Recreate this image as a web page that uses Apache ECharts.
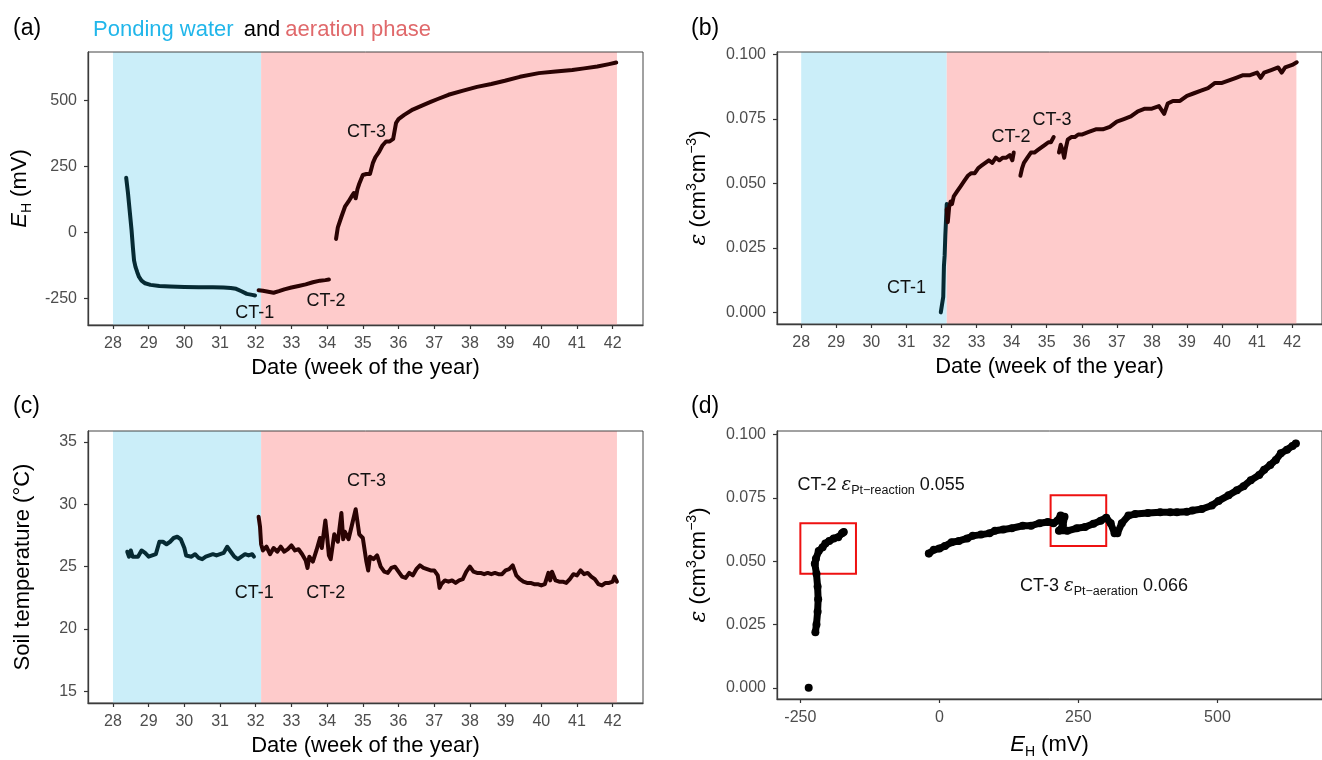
<!DOCTYPE html>
<html>
<head>
<meta charset="utf-8">
<script src="https://cdn.jsdelivr.net/npm/echarts@6/dist/echarts.min.js"></script>
<style>
html,body{margin:0;padding:0;background:#fff}
#main{width:1322px;height:760px}
</style>
</head>
<body>
<div id="main"></div>
<script>
// tick labels
var weekTicks=[28,29,30,31,32,33,34,35,36,37,38,39,40,41,42];
var ehTicks=[-250,0,250,500];
var epsTicks=[0,0.025,0.05,0.075,0.1];
var tempTicks=[15,20,25,30,35];

// phase limits (week of the year)
var pondPhase=[28,32.15];
var aerPhase=[32.15,42.12];

// (a) redox potential EH, mV
var ehPondWeek=[28.37,28.42,28.47,28.52,28.56,28.59,28.63,28.68,28.73,28.80,28.90,29.05,29.3,29.6,30.0,30.4,30.8,31.1,31.3,31.45,31.6,31.75,31.9,31.98];
var ehPondVal=[208,150,80,10,-60,-105,-130,-150,-168,-182,-192,-198,-202,-204,-206,-207,-207,-208,-210,-213,-222,-232,-236,-238];
var ehCt2Week=[32.08,32.2,32.35,32.5,32.65,32.8,33.0,33.2,33.4,33.6,33.8,33.95,34.05];
var ehCt2Val=[-218,-220,-224,-228,-222,-215,-208,-202,-196,-188,-182,-180,-178];
var ehCt3Week=[34.25,34.3,34.4,34.5,34.6,34.7,34.75,34.8,34.85,34.9,35.0,35.1,35.2,35.28,35.35,35.46,35.55,35.65,35.75,35.85,35.93,36.0,36.16,36.4,36.64,36.9,37.1,37.4,37.81,38.2,38.6,38.98,39.4,39.93,40.4,40.87,41.2,41.57,41.9,42.1];
var ehCt3Val=[-24,20,60,98,118,140,150,130,165,185,218,222,222,263,285,307,330,345,345,355,415,430,446,466,480,495,506,522,538,552,563,575,590,604,610,616,622,629,638,644];

// (b) epsilon, cm3 cm-3
var epsPondWeek=[31.98,32.03,32.05,32.07,32.09,32.11,32.13,32.15];
var epsPondVal=[0,0,0.006,0.018,0.022,0.03,0.036,0.042];
var epsCt2Week=[32.15,32.18,32.22,32.26,32.3,32.35,32.45,32.55,32.65,32.75,32.85,32.95,33.05,33.15,33.25,33.35,33.45,33.55,33.65,33.75,33.85,33.95,34.02,34.06];
var epsCt2Val=[0.040,0.035,0.041,0.043,0.042,0.045,0.047,0.049,0.051,0.053,0.054,0.054,0.056,0.057,0.058,0.059,0.058,0.060,0.059,0.060,0.060,0.061,0.059,0.062];
var epsCt3Week=[34.25,34.3,34.35,34.45,34.55,34.65,34.75,34.85,34.95,35.05,35.12,35.2];
var epsCt3Val=[0.053,0.056,0.058,0.060,0.062,0.062,0.063,0.064,0.065,0.066,0.066,0.068];
var epsCt4Week=[35.35,35.4,35.45,35.5,35.55,35.6,35.7,35.8,35.9,36.0,36.2,36.4,36.6,36.8,37.0,37.2,37.4,37.6,37.8,38.0,38.2,38.35,38.45,38.6,38.8,39.0,39.2,39.4,39.6,39.8,40.0,40.2,40.4,40.6,40.8,41.0,41.1,41.2,41.4,41.6,41.7,41.8,42.0,42.13];
var epsCt4Val=[0.062,0.065,0.063,0.060,0.064,0.067,0.068,0.068,0.069,0.069,0.070,0.071,0.071,0.072,0.074,0.075,0.076,0.078,0.079,0.079,0.080,0.077,0.081,0.082,0.082,0.084,0.085,0.086,0.087,0.089,0.089,0.090,0.091,0.092,0.092,0.093,0.091,0.093,0.094,0.095,0.093,0.095,0.096,0.097];

// (c) soil temperature, degC
var tPondWeek=[28.4,28.45,28.5,28.55,28.6,28.7,28.8,28.9,29.0,29.1,29.2,29.3,29.4,29.5,29.6,29.7,29.8,29.9,30.0,30.05,30.2,30.3,30.4,30.5,30.6,30.7,30.8,30.9,31.0,31.1,31.2,31.3,31.4,31.5,31.6,31.7,31.8,31.9,31.95];
var tPondVal=[26.2,25.8,26.3,25.8,25.9,25.8,26.3,26.1,25.8,25.9,26.0,27.0,27.0,26.8,27.0,27.3,27.4,27.2,26.5,25.9,25.8,26.0,25.7,25.6,25.8,25.9,26.0,25.9,26.0,26.1,26.6,26.2,25.8,25.6,25.8,26.0,25.9,26.0,25.8];
var tAerWeek=[32.08,32.12,32.15,32.2,32.3,32.4,32.5,32.6,32.7,32.8,32.9,33.0,33.1,33.2,33.3,33.4,33.45,33.5,33.6,33.7,33.8,33.85,33.95,34.0,34.05,34.1,34.2,34.3,34.4,34.45,34.5,34.6,34.7,34.8,34.9,35.0,35.1,35.15,35.2,35.3,35.4,35.5,35.6,35.7,35.8,35.9,36.0,36.1,36.2,36.3,36.4,36.5,36.6,36.7,36.8,36.9,37.0,37.1,37.15,37.2,37.3,37.4,37.5,37.6,37.7,37.8,37.9,38.0,38.1,38.2,38.3,38.4,38.5,38.6,38.7,38.8,38.9,39.0,39.1,39.2,39.3,39.4,39.5,39.6,39.7,39.8,39.9,40.0,40.1,40.2,40.25,40.3,40.4,40.5,40.6,40.7,40.8,40.9,41.0,41.1,41.2,41.3,41.4,41.5,41.6,41.7,41.8,41.9,42.0,42.05,42.12];
var tAerVal=[29.0,28.2,26.8,26.3,26.6,26.0,26.5,26.2,26.6,26.2,26.4,26.7,26.3,26.4,26.0,25.5,24.9,25.8,25.4,26.3,27.3,26.5,28.7,27.4,25.9,25.6,27.6,27.0,29.3,27.2,27.8,27.2,28.4,29.6,27.6,27.3,25.4,24.7,25.8,25.6,25.9,25.0,24.6,24.5,24.9,25.0,24.6,24.2,24.1,24.5,24.3,24.8,25.1,24.9,24.8,24.7,24.7,24.3,23.3,23.6,23.9,23.8,23.9,23.7,23.9,24.0,24.6,25.0,24.6,24.5,24.5,24.4,24.5,24.4,24.5,24.4,24.4,24.7,24.8,25.1,24.3,24.0,23.8,23.7,23.7,23.6,23.6,23.5,23.6,24.5,23.9,24.6,23.9,23.8,23.8,23.7,24.0,24.4,24.3,24.7,24.4,24.5,24.2,24.0,23.6,23.5,23.7,23.7,23.8,24.2,23.8];

// (d) epsilon against EH
var dZeroEh=[-235];
var dZeroEps=[0];
var dCt2Eh=[-223,-221,-219,-218,-219,-221,-224,-222,-217,-210,-205,-198,-190,-182,-175,-172];
var dCt2Eps=[0.022,0.025,0.030,0.035,0.040,0.045,0.049,0.051,0.054,0.0555,0.057,0.058,0.059,0.0595,0.061,0.0615];
var dCt3Eh=[-19,-10,0,10,22,35,50,60,75,90,100,115,130,150,165,180,195,205,212,218,225,222,215,230,247,262,277,290,300,308,315,320,328,340,352,375,397,415,427,445,455,472,490,502,520,535,547,560,575,584,595,605,614,625,635,641];
var dCt3Eps=[0.053,0.0545,0.055,0.056,0.0575,0.058,0.059,0.060,0.0605,0.061,0.062,0.0625,0.063,0.064,0.064,0.065,0.0655,0.065,0.066,0.068,0.0675,0.064,0.062,0.062,0.063,0.0635,0.0648,0.066,0.0672,0.065,0.061,0.061,0.065,0.068,0.0686,0.069,0.0693,0.0693,0.0693,0.0695,0.070,0.0706,0.072,0.0738,0.076,0.078,0.0796,0.082,0.084,0.0861,0.088,0.090,0.0926,0.094,0.0955,0.0965];

var FONT='"Liberation Sans", Arial, sans-serif';
var TEAL='#062a33', BROWN='#2a0303';
var BLUE_BG='#CBEEF9', PINK_BG='#FECBCB';

function pairs(xs,ys){
    var out=[];
    for(var i=0;i<xs.length;i++){ out.push([xs[i],ys[i]]); }
    return out;
}

var nameRich={
    t:{fontSize:22,fontFamily:FONT,color:'#000',lineHeight:28,verticalAlign:'middle'},
    i:{fontSize:22,fontFamily:FONT,fontStyle:'italic',color:'#000',lineHeight:28,verticalAlign:'middle'},
    e:{fontSize:22,fontFamily:'"DejaVu Serif", serif',fontStyle:'italic',color:'#000',lineHeight:28,verticalAlign:'middle'},
    s:{fontSize:14,fontFamily:FONT,color:'#000',lineHeight:14,verticalAlign:'bottom'},
    p:{fontSize:14,fontFamily:FONT,color:'#000',lineHeight:12,verticalAlign:'top'}
};
var noteRich={
    t:{fontSize:18,fontFamily:FONT,color:'#111',lineHeight:24,verticalAlign:'middle'},
    e:{fontSize:18,fontFamily:'"DejaVu Serif", serif',fontStyle:'italic',color:'#111',lineHeight:24,verticalAlign:'middle'},
    s:{fontSize:12.5,fontFamily:FONT,color:'#111',lineHeight:12,verticalAlign:'bottom'}
};

function xAxisOf(idx,min,max,ticks,name,fmt){
    return {
        type:'value',gridIndex:idx,min:min,max:max,
        name:name,nameLocation:'middle',nameGap:32,
        nameTextStyle:{rich:nameRich,fontSize:22,fontFamily:FONT,color:'#000'},
        splitLine:{show:false},
        axisLine:{show:true,onZero:false,lineStyle:{color:'#333',width:1.3}},
        axisTick:{show:true,length:4,customValues:ticks,lineStyle:{color:'#333',width:1.2}},
        axisLabel:{customValues:ticks,fontSize:16,fontFamily:FONT,color:'#4d4d4d',margin:11,formatter:fmt||null}
    };
}
function yAxisOf(idx,min,max,ticks,name,gap,fmt){
    return {
        type:'value',gridIndex:idx,min:min,max:max,
        name:name,nameLocation:'middle',nameGap:gap,
        nameTextStyle:{rich:nameRich,fontSize:22,fontFamily:FONT,color:'#000'},
        splitLine:{show:false},
        axisLine:{show:true,onZero:false,lineStyle:{color:'#333',width:1.3}},
        axisTick:{show:true,length:4,customValues:ticks,lineStyle:{color:'#333',width:1.2}},
        axisLabel:{customValues:ticks,fontSize:16,fontFamily:FONT,color:'#4d4d4d',margin:11,formatter:fmt||null}
    };
}

function phaseBg(idx){
    return {
        type:'line',xAxisIndex:idx,yAxisIndex:idx,data:[],z:1,silent:true,
        markArea:{silent:true,data:[
            [{xAxis:pondPhase[0],itemStyle:{color:BLUE_BG,opacity:1}},{xAxis:pondPhase[1]}],
            [{xAxis:aerPhase[0],itemStyle:{color:PINK_BG,opacity:1}},{xAxis:aerPhase[1]}]
        ]}
    };
}
function trace(idx,xs,ys,color,notes){
    var s={
        type:'line',xAxisIndex:idx,yAxisIndex:idx,data:pairs(xs,ys),
        showSymbol:false,smooth:false,z:3,
        lineStyle:{color:color,width:4,join:'round',cap:'round'}
    };
    if(notes){ s.markPoint=notes; }
    return s;
}
function labels(items,pos){
    return {
        symbol:'circle',symbolSize:0,silent:true,
        label:{show:true,position:pos||'inside',distance:0,color:'#111',fontSize:18,fontFamily:FONT,
               rich:noteRich,formatter:function(p){return p.name;}},
        data:items
    };
}
function dots(idx,xs,ys,joined){
    return {
        type:joined?'line':'scatter',xAxisIndex:idx,yAxisIndex:idx,data:pairs(xs,ys),z:3,
        symbol:'circle',symbolSize:8,showSymbol:true,
        itemStyle:{color:'#000',opacity:1},
        lineStyle:{color:'#000',width:7,join:'round',cap:'round'}
    };
}

var epsName='{e|ε} {t|(cm}{p|3}{t|cm}{p|−3}{t|)}';
var ehName='{i|E}{s|H}{t| (mV)}';
var weekName='Date (week of the year)';
var eps3=function(v){return v.toFixed(3);};
var panelStyle={fontSize:23,fontWeight:'normal',fontFamily:FONT,color:'#000'};

var chart=echarts.init(document.getElementById('main'));
chart.setOption({
    animation:false,
    backgroundColor:'#fff',
    title:[
        {left:8,top:12,text:'(a)',textStyle:panelStyle},
        {left:686,top:12,text:'(b)',textStyle:panelStyle},
        {left:8,top:390,text:'(c)',textStyle:panelStyle},
        {left:686,top:390,text:'(d)',textStyle:panelStyle},
        {left:88,top:14,text:'{b|Ponding water}  {k|and} {r|aeration phase}',
         textStyle:{fontWeight:'normal',rich:{
            b:{fontSize:22,fontWeight:'normal',fontFamily:FONT,color:'#21B6EA'},
            k:{fontSize:22,fontWeight:'normal',fontFamily:FONT,color:'#000'},
            r:{fontSize:22,fontWeight:'normal',fontFamily:FONT,color:'#E0696B'}
         }}}
    ],
    grid:[
        {left:88,top:52,width:555,height:273,show:true,borderColor:'#444',borderWidth:1,z:10},
        {left:777,top:52,width:552,height:272,show:true,borderColor:'#444',borderWidth:1,z:10},
        {left:88,top:431,width:555,height:272,show:true,borderColor:'#444',borderWidth:1,z:10},
        {left:777,top:431,width:552,height:272,show:true,borderColor:'#444',borderWidth:1,z:10}
    ],
    xAxis:[
        xAxisOf(0,27.3,42.85,weekTicks,weekName),
        xAxisOf(1,27.31,42.85,weekTicks,weekName),
        xAxisOf(2,27.3,42.85,weekTicks,weekName),
        xAxisOf(3,-292,688,ehTicks,ehName)
    ],
    yAxis:[
        yAxisOf(0,-350,684,ehTicks,ehName,54),
        yAxisOf(1,-0.0045,0.101,epsTicks,epsName,64,eps3),
        yAxisOf(2,14.07,35.88,tempTicks,'Soil temperature (°C)',54),
        yAxisOf(3,-0.0044,0.1014,epsTicks,epsName,64,eps3)
    ],
    series:[
        phaseBg(0),phaseBg(1),phaseBg(2),
        trace(0,ehPondWeek,ehPondVal,TEAL,labels([
            {name:'CT-1',coord:[31.97,-305]},
            {name:'CT-2',coord:[33.97,-258]},
            {name:'CT-3',coord:[35.1,382]}
        ])),
        trace(0,ehCt2Week,ehCt2Val,BROWN),
        trace(0,ehCt3Week,ehCt3Val,BROWN),
        trace(1,epsPondWeek,epsPondVal,TEAL,labels([
            {name:'CT-1',coord:[31.0,0.0094]},
            {name:'CT-2',coord:[33.98,0.068]},
            {name:'CT-3',coord:[35.15,0.0745]}
        ])),
        trace(1,epsCt2Week,epsCt2Val,BROWN),
        trace(1,epsCt3Week,epsCt3Val,BROWN),
        trace(1,epsCt4Week,epsCt4Val,BROWN),
        trace(2,tPondWeek,tPondVal,TEAL,labels([
            {name:'CT-1',coord:[31.96,22.9]},
            {name:'CT-2',coord:[33.96,22.9]},
            {name:'CT-3',coord:[35.1,31.9]}
        ])),
        trace(2,tAerWeek,tAerVal,BROWN),
        dots(3,dZeroEh,dZeroEps,false),
        dots(3,dCt2Eh,dCt2Eps,true),
        (function(){
            var s=dots(3,dCt3Eh,dCt3Eps,true);
            s.markArea={silent:true,itemStyle:{color:'rgba(0,0,0,0)',borderColor:'#ee1111',borderWidth:2},data:[
                [{coord:[-250,0.065]},{coord:[-150,0.045]}],
                [{coord:[200,0.076]},{coord:[300,0.056]}]
            ]};
            s.markPoint=labels([
                {name:'{t|CT-2 }{e|ε}{s|Pt−reaction}{t| 0.055}',coord:[-255,0.080]},
                {name:'{t|CT-3 }{e|ε}{s|Pt−aeration}{t| 0.066}',coord:[145,0.040]}
            ],'right');
            return s;
        })()
    ]
});
</script>
</body>
</html>
